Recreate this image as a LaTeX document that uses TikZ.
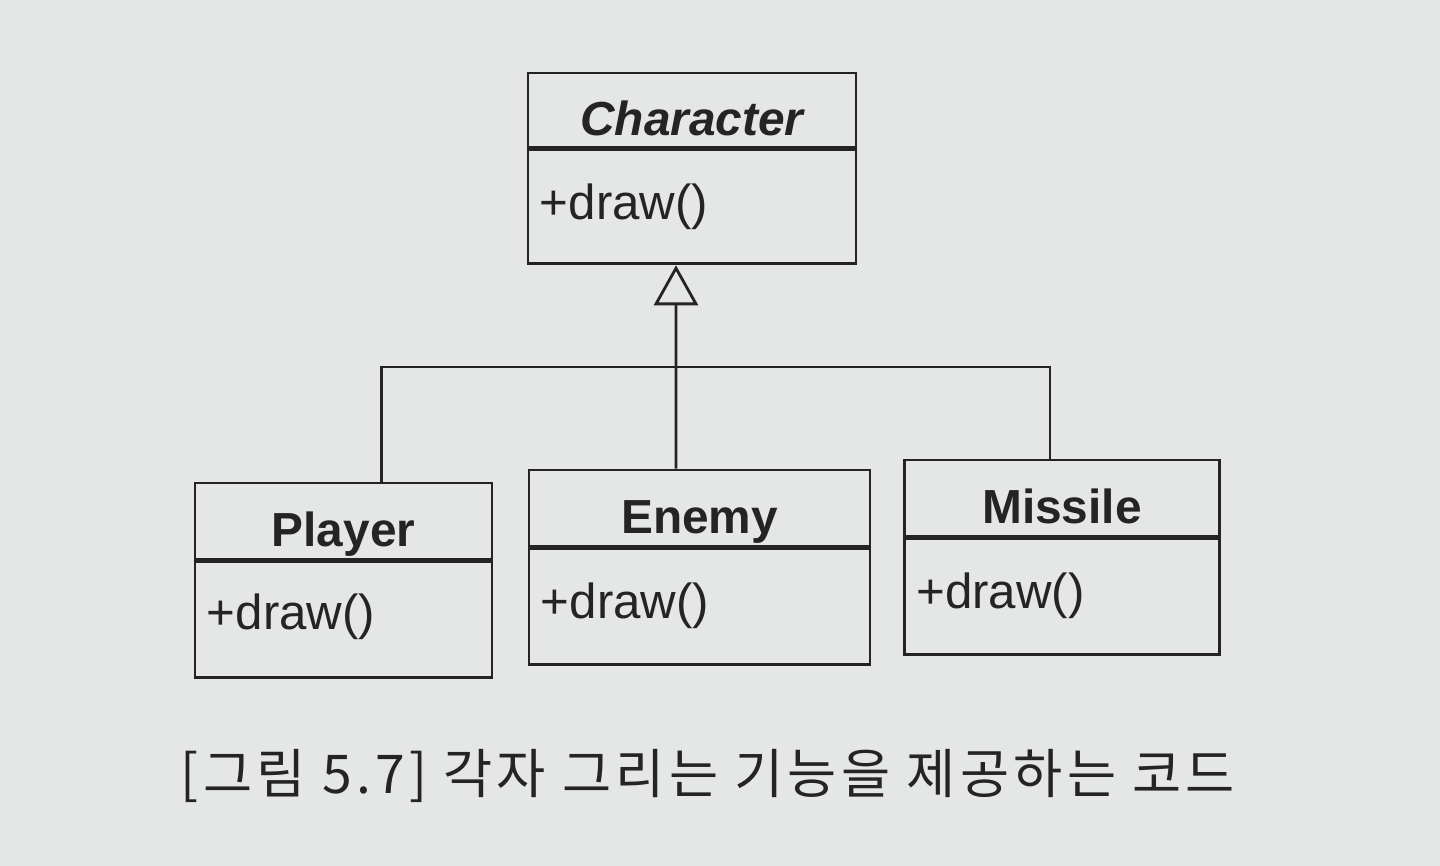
\documentclass[tikz,border=0pt]{standalone}
\usepackage{fontspec}
\setmainfont{Liberation Sans}
\newfontfamily\krfont[LetterSpace=8]{Noto Sans CJK KR}
\usetikzlibrary{positioning, arrows.meta}
\definecolor{paper}{RGB}{229,230,230}
\definecolor{ink}{RGB}{36,36,36}

\begin{document}
\begin{tikzpicture}[x=0.025cm, y=-0.025cm, line width=2pt, draw=ink, text=ink,
  classname/.style={draw, minimum height=1.9cm, inner sep=0pt, text height=36pt, text depth=0pt,
    font=\fontsize{34}{40}\selectfont\bfseries},
  classbody/.style={draw, minimum height=2.9cm, anchor=north},
  method/.style={anchor=north west, inner sep=0pt, font=\fontsize{35}{40}\selectfont}]
\fill[paper] (0,0) rectangle (1440,866);
\useasboundingbox (0,0) rectangle (1440,866);
% classes
\node[classname, minimum width=8.2cm, minimum height=1.85cm] (character) at (692,110) {\itshape Character};
\node[classbody, minimum width=8.2cm, minimum height=2.85cm] (characterbody) at (character.south) {};
\node[method] (charactermethod) at ([xshift=0.3cm, yshift=-0.85cm]characterbody.north west) {+draw()};
\node[classname, minimum width=7.425cm] (player) at (343.5,521) {Player};
\node[classbody, minimum width=7.425cm] (playerbody) at (player.south) {};
\node[method] (playermethod) at ([xshift=0.3cm, yshift=-0.8cm]playerbody.north west) {+draw()};
\node[classname, minimum width=8.525cm] (enemy) at (699.5,508) {Enemy};
\node[classbody, minimum width=8.525cm] (enemybody) at (enemy.south) {};
\node[method] (enemymethod) at ([xshift=0.3cm, yshift=-0.85cm]enemybody.north west) {+draw()};
\node[classname, minimum width=7.875cm] (missile) at (1062,498) {Missile};
\node[classbody, minimum width=7.875cm] (missilebody) at (missile.south) {};
\node[method] (missilemethod) at ([xshift=0.3cm, yshift=-0.85cm]missilebody.north west) {+draw()};
% generalization
\coordinate (bus) at (676,367);
\draw[-{Triangle[open, length=1cm, width=1.1cm, line width=2pt]}] ([xshift=-0.5875cm]enemy.north) -- ([xshift=-0.4cm]characterbody.south);
\draw ([xshift=0.94cm]player.north) |- (bus) -| ([xshift=-0.3cm]missile.north);
% caption
\node[font=\krfont\fontsize{38}{44}\selectfont] (caption) at (708,776) {[그림 5.7] 각자 그리는 기능을 제공하는 코드};
\end{tikzpicture}
\end{document}
